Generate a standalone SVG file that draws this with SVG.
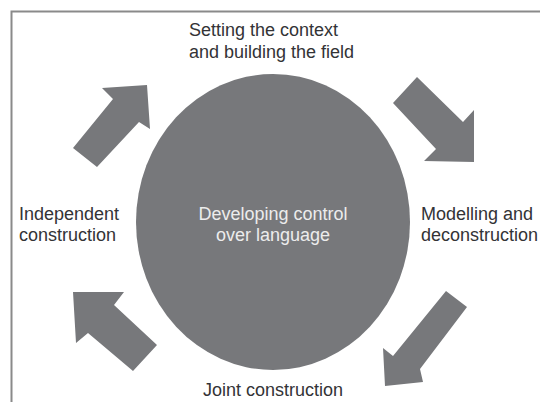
<svg xmlns="http://www.w3.org/2000/svg" width="540" height="402" viewBox="0 0 540 402">
<style>
.lbl{font-family:"Liberation Sans",Arial,sans-serif;font-size:18px;fill:#333336}
.ctr{font-family:"Liberation Sans",Arial,sans-serif;font-size:18px;fill:#ececec;text-anchor:middle}
.arr{fill:#77787b}
</style>
<rect width="540" height="402" fill="#ffffff"/>
<path d="M11.5,402 V11.5 H540" fill="none" stroke="#8a8a8a" stroke-width="2"/>
<g id="center">
<ellipse cx="273" cy="222" rx="137" ry="148" fill="#77787b"/>
<text class="ctr" x="273" y="219.5">Developing control</text>
<text class="ctr" x="273" y="241">over language</text>
</g>
<g id="setting">
<text class="lbl" x="189" y="36">Setting the context</text>
<text class="lbl" x="189" y="57.5">and building the field</text>
</g>
<g id="modelling">
<text class="lbl" x="421" y="219.5">Modelling and</text>
<text class="lbl" x="421" y="241">deconstruction</text>
</g>
<g id="joint">
<text class="lbl" x="273" y="396" text-anchor="middle">Joint construction</text>
</g>
<g id="independent">
<text class="lbl" x="19" y="219.5">Independent</text>
<text class="lbl" x="19" y="241">construction</text>
</g>
<g id="connectors">
<polygon class="arr" points="147,85 102,88 113,99 73,148 97,167 139,122 150,129"/>
<polygon class="arr" points="417,77 393,103 436,149 424,161 474,162 474,110 463,122"/>
<polygon class="arr" points="446,291 467,307 420,369 423,382 385,386 383,348 393,356"/>
<polygon class="arr" points="73,292 124,292 114,305 157,345 133,371 88,333 76,343"/>
</g>
</svg>
